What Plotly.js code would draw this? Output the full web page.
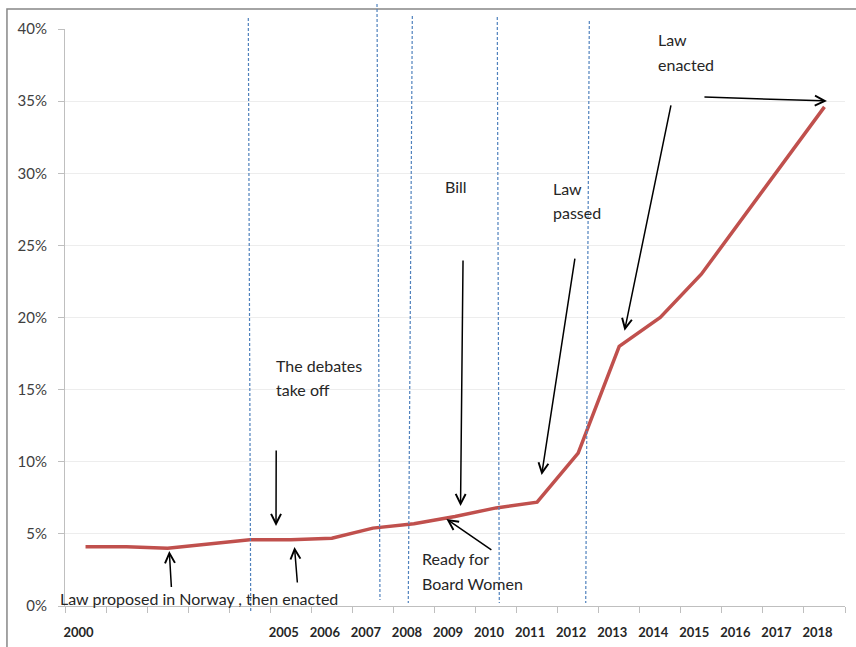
<!DOCTYPE html>
<html>
<head>
<meta charset="utf-8">
<script src="https://cdn.plot.ly/plotly-3.0.1.min.js"></script>
<style>
  html, body { margin: 0; padding: 0; background: #fff; }
  #chart { width: 856px; height: 647px; }
</style>
</head>
<body>
<div id="chart"></div>
<script>
// Share of women on company boards, 2000-2018 (percent)
const years = [2000, 2001, 2002, 2003, 2004, 2005, 2006, 2007, 2008, 2009,
               2010, 2011, 2012, 2013, 2014, 2015, 2016, 2017, 2018];
const womenShare = [4.1, 4.1, 4.0, 4.3, 4.6, 4.6, 4.7, 5.4, 5.7, 6.2,
                    6.8, 7.2, 10.6, 18.0, 20.0, 23.0, 26.9, 30.7, 34.6];
const yearLabels = ['2000', '', '', '', '', '2005', '2006', '2007', '2008', '2009',
                    '2010', '2011', '2012', '2013', '2014', '2015', '2016', '2017', '2018'];

// Milestone notes, one line each (paper coordinates)
const noteText = ['The debates', 'take off', 'Law proposed in Norway , then enacted',
                  'Bill', 'Law', 'passed', 'Law', 'enacted', 'Ready for', 'Board Women'];
const noteX = [0.268, 0.268, -0.009, 0.485, 0.623, 0.623, 0.758, 0.758, 0.455, 0.455];
const noteY = [0.416, 0.376, 0.0133, 0.727, 0.723, 0.682, 0.981, 0.939, 0.083, 0.039];

// Arrows: head in data units, tail as pixel offset from head
const arrowHeadX = [2002.04, 2004.64, 2005.09, 2009.135, 2008.79, 2011.11, 2013.13, 2018.06];
const arrowHeadY = [3.81, 5.55, 4.09, 6.93, 6.03, 9.08, 19.09, 35.01];
const arrowTailDx = [2.2, 0.2, 3, 2.5, 46.5, 33.5, 46.7, -124];
const arrowTailDy = [37.5, -77, 37, -247, 32, -218, -226.7, -4];

// Dashed phase separators (paper coordinates: top x, top y, bottom x, bottom y)
const sepTopX = [0.2350, 0.4000, 0.4453, 0.5542, 0.6722];
const sepTopY = [1.0191, 1.0433, 1.0225, 1.0208, 1.0139];
const sepBotX = [0.2381, 0.4038, 0.4401, 0.5568, 0.6676];
const sepBotY = [-0.0087, 0.0104, 0.0052, 0.0052, 0.0052];

const FONT = 'Lato, "Open Sans", sans-serif';

const trace = {
  x: years,
  y: womenShare,
  type: 'scatter',
  mode: 'lines',
  line: { color: '#c0504d', width: 3.5 },
  hoverinfo: 'x+y'
};

const shapes = [];
// frame around the chart
shapes.push({
  type: 'rect', xref: 'paper', yref: 'paper',
  x0: -0.0744, x1: 1.2, y0: 1.0347, y1: -0.2,
  line: { color: '#878787', width: 1.5 }, fillcolor: 'rgba(0,0,0,0)', layer: 'below'
});
for (let i = 0; i < sepTopX.length; i++) {
  shapes.push({
    type: 'line', xref: 'paper', yref: 'paper',
    x0: sepTopX[i], y0: sepTopY[i], x1: sepBotX[i], y1: sepBotY[i],
    line: { color: '#4f81bd', width: 1.2, dash: '3px,2px' }
  });
}

const annotations = [];
for (let i = 0; i < noteText.length; i++) {
  annotations.push({
    text: noteText[i], xref: 'paper', yref: 'paper',
    x: noteX[i], y: noteY[i], xanchor: 'left', yanchor: 'middle',
    showarrow: false, font: { family: FONT, size: 16, color: '#262626' }
  });
}
for (let i = 0; i < arrowHeadX.length; i++) {
  annotations.push({
    text: '', xref: 'x', yref: 'y',
    x: arrowHeadX[i], y: arrowHeadY[i],
    ax: arrowTailDx[i], ay: arrowTailDy[i],
    showarrow: true, arrowhead: 5, arrowsize: 1.3, arrowwidth: 1.5,
    arrowcolor: '#000', standoff: 0
  });
}

const layout = {
  width: 856, height: 647,
  margin: { l: 65, r: 11, t: 29, b: 41 },
  paper_bgcolor: '#fff', plot_bgcolor: '#fff',
  showlegend: false,
  font: { family: FONT, color: '#404040' },
  xaxis: {
    range: [1999.5, 2018.5],
    tickmode: 'array', tickvals: years, ticktext: yearLabels,
    ticks: '', showgrid: false, zeroline: false,
    showline: true, linecolor: '#bfbfbf', linewidth: 1,
    tickfont: { family: FONT, size: 13, color: '#262626', weight: 'bold' },
    ticklabelstandoff: 14, ticklabelshift: -7,
    minor: { tickmode: 'linear', tick0: 1999.5, dtick: 1, ticks: 'outside',
             ticklen: 6, tickcolor: '#bfbfbf', showgrid: false }
  },
  yaxis: {
    range: [0, 40], dtick: 5, ticksuffix: '%',
    showgrid: true, gridcolor: '#ededed', zeroline: false,
    showline: true, linecolor: '#bfbfbf', linewidth: 1,
    ticks: 'outside', ticklen: 6, tickcolor: '#bfbfbf',
    tickfont: { family: FONT, size: 15, color: '#404040' },
    ticklabelstandoff: 8
  },
  shapes: shapes,
  annotations: annotations
};

Plotly.newPlot('chart', [trace], layout, { displayModeBar: false, staticPlot: true });
</script>
</body>
</html>
